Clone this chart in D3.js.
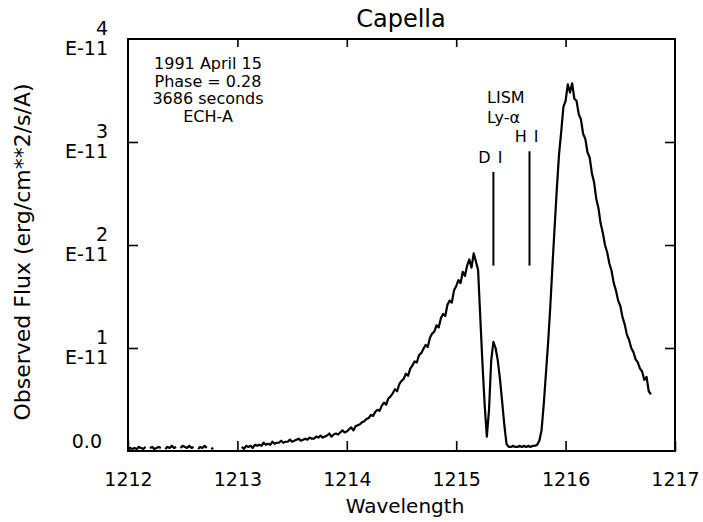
<!DOCTYPE html>
<html>
<head>
<meta charset="utf-8">
<script src="https://cdn.jsdelivr.net/npm/d3@7"></script>
<style>
body{margin:0;background:#fff;}
text{font-family:"DejaVu Sans",sans-serif;fill:#000;}
.axis line{stroke:#000;stroke-width:1.6;}
.axis path{display:none;}
</style>
</head>
<body>
<script>
var width=703,height=522;

// chart values
var xTicks = [1212,1213,1214,1215,1216,1217];
var yTicks = [0,1,2,3,4];
var yTickNums = ["0.0","1","2","3","4"];
var yTickExp = ["","E-11","E-11","E-11","E-11"];
var infoLines = ["1991 April 15","Phase = 0.28","3686 seconds","ECH-A"];
var lismLabels = ["LISM","Ly-\u03b1"];
var absLines = [{name:"D I",wave:1215.34},{name:"H I",wave:1215.67}];

// spectrum: flux in 1e-11 erg/cm2/s/A, one value every 0.02 A from 1212.00
var waveStart = 1212.00, waveStep = 0.02;
var flux = [
 0.01,0.03,0.02,0.03,0.02,0.04,0.03,0.02,0.04,null,   // 1212.00
 0.03,0.04,0.02,0.03,0.04,0.03,null,0.02,0.04,0.03,   // 1212.20
 0.05,0.03,0.04,null,0.03,0.05,0.04,0.03,0.05,0.03,   // 1212.40
 0.04,null,0.02,0.04,0.03,0.05,0.03,null,0.02,0.03,   // 1212.60
 null,0.02,null,null,0.02,null,0.03,null,0.02,null,   // 1212.80
 0.03,null,0.04,0.02,0.05,0.04,0.05,0.03,0.06,0.05,   // 1213.00
 0.06,0.05,0.08,0.06,0.07,0.06,0.09,0.07,0.08,0.08,   // 1213.20
 0.10,0.08,0.09,0.09,0.11,0.09,0.10,0.11,0.12,0.10,   // 1213.40
 0.11,0.12,0.11,0.13,0.12,0.12,0.14,0.13,0.15,0.13,   // 1213.60
 0.14,0.15,0.17,0.14,0.16,0.17,0.16,0.18,0.20,0.18,   // 1213.80
 0.19,0.21,0.23,0.20,0.24,0.25,0.26,0.28,0.29,0.31,   // 1214.00
 0.32,0.35,0.34,0.38,0.40,0.39,0.44,0.47,0.45,0.51,   // 1214.20
 0.53,0.56,0.60,0.58,0.65,0.68,0.70,0.75,0.73,0.80,   // 1214.40
 0.83,0.87,0.86,0.93,0.95,0.99,1.03,1.01,1.10,1.14,   // 1214.60
 1.16,1.22,1.20,1.29,1.33,1.31,1.42,1.46,1.44,1.56,   // 1214.80
 1.60,1.66,1.63,1.74,1.70,1.80,1.86,1.78,1.92,1.84,   // 1215.00
 1.76,1.30,0.85,0.45,0.14,0.40,0.88,1.06,1.00,0.88,   // 1215.20
 0.70,0.48,0.25,0.07,0.04,0.04,0.05,0.04,0.04,0.05,   // 1215.40
 0.04,0.05,0.04,0.05,0.04,0.05,0.05,0.06,0.10,0.20,   // 1215.60
 0.45,0.75,1.05,1.40,1.80,2.18,2.55,2.88,3.10,3.34,   // 1215.80
 3.40,3.56,3.48,3.57,3.42,3.40,3.27,3.22,3.08,3.03,   // 1216.00
 2.90,2.85,2.70,2.61,2.45,2.36,2.21,2.12,2.00,1.93,   // 1216.20
 1.82,1.75,1.63,1.56,1.46,1.41,1.30,1.23,1.13,1.08,   // 1216.40
 1.00,0.96,0.89,0.86,0.80,0.77,0.69,0.72,0.58,0.55    // 1216.60
];
var spectrum = flux.map(function(f,i){ return {w: waveStart + i*waveStep, f: f}; });

var svg = d3.select("body")
	.append("svg")
	.attr("width", width)
	.attr("height", height);

svg.append("rect").attr("width", width).attr("height", height).attr("fill", "#fff");

var x = d3.scaleLinear().domain([1212,1217]).range([128,675]);
var y = d3.scaleLinear().domain([0,4]).range([451,39]);

// axes, ticks point inward
svg.append("g").attr("class","axis")
	.attr("transform","translate(0,"+y(0)+")")
	.call(d3.axisBottom(x).tickValues(xTicks).tickSize(-10).tickPadding(22).tickFormat(d3.format("d")))
	.selectAll("text").attr("font-size", 19).attr("font-family", "DejaVu Sans");
svg.append("g").attr("class","axis")
	.attr("transform","translate(0,"+y(4)+")")
	.call(d3.axisTop(x).tickValues(xTicks.slice(1,-1)).tickSize(-8).tickFormat(""));
svg.append("g").attr("class","axis")
	.attr("transform","translate("+x(1212)+",0)")
	.call(d3.axisLeft(y).tickValues(yTicks.slice(1,-1)).tickSize(-10).tickFormat(""));
svg.append("g").attr("class","axis")
	.attr("transform","translate("+x(1217)+",0)")
	.call(d3.axisRight(y).tickValues(yTicks.slice(1,-1)).tickSize(-10).tickFormat(""));

svg.append("rect")
	.attr("x", x(1212)).attr("y", y(4))
	.attr("width", x(1217)-x(1212)).attr("height", y(0)-y(4))
	.attr("fill","none").attr("stroke","#000").attr("stroke-width",2);

// y tick labels: number over exponent
var yl = svg.append("g").selectAll("g")
	.data(yTicks).enter().append("g");
yl.append("text")
	.attr("x", function(d,i){ return i==0 ? 102 : 108; })
	.attr("y", function(d,i){ return i==0 ? y(d)-3 : y(d)-4; })
	.attr("text-anchor","end").attr("font-size",19)
	.text(function(d,i){ return yTickNums[i]; });
yl.append("text")
	.attr("x", 108)
	.attr("y", function(d){ return y(d)+16; })
	.attr("text-anchor","end").attr("font-size",19)
	.text(function(d,i){ return yTickExp[i]; });

// titles
svg.append("text").attr("x", 401).attr("y", 27)
	.attr("text-anchor","middle").attr("font-size",24).text("Capella");
svg.append("text").attr("x", 405).attr("y", 513)
	.attr("text-anchor","middle").attr("font-size",20).text("Wavelength");
svg.append("text")
	.attr("transform","translate(30,252) rotate(-90)")
	.attr("text-anchor","middle").attr("font-size",22)
	.text("Observed Flux (erg/cm**2/s/A)");

// observation info
svg.append("g").selectAll("text")
	.data(infoLines).enter().append("text")
	.attr("x", 208)
	.attr("y", function(d,i){ return 69 + i*17.5; })
	.attr("text-anchor","middle").attr("font-size",16)
	.text(function(d){ return d; });

// LISM Ly-alpha markers
svg.append("g").selectAll("text")
	.data(lismLabels).enter().append("text")
	.attr("x", 487)
	.attr("y", function(d,i){ return 103 + i*20; })
	.attr("font-size",16)
	.text(function(d){ return d; });

var markTop = [2.71, 2.91];
svg.append("g").selectAll("line")
	.data(absLines).enter().append("line")
	.attr("x1", function(d){ return x(d.wave); })
	.attr("x2", function(d){ return x(d.wave); })
	.attr("y1", function(d,i){ return y(markTop[i]); })
	.attr("y2", y(1.80))
	.attr("stroke","#000").attr("stroke-width",2);
svg.append("g").selectAll("text")
	.data(absLines).enter().append("text")
	.attr("x", function(d){ return x(d.wave)+10; })
	.attr("y", function(d,i){ return y(markTop[i])-9; })
	.attr("text-anchor","end").attr("font-size",16)
	.attr("letter-spacing",1)
	.text(function(d){ return d.name; });

// spectrum
var line = d3.line()
	.defined(function(d){ return d.f !== null; })
	.x(function(d){ return x(d.w); })
	.y(function(d){ return y(d.f); });

svg.append("path")
	.datum(spectrum)
	.attr("d", line)
	.attr("fill","none")
	.attr("stroke","#000")
	.attr("stroke-width",2.2)
	.attr("stroke-linejoin","round");
</script>
</body>
</html>
